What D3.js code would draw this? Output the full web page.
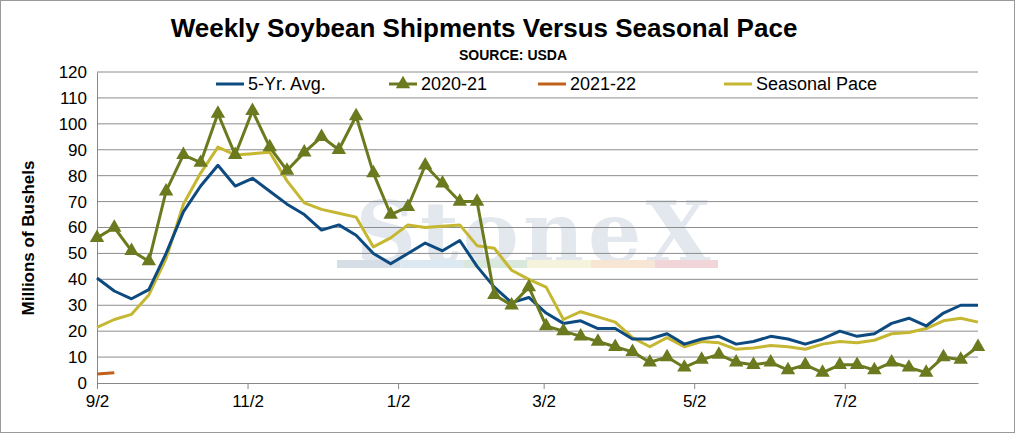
<!DOCTYPE html>
<html><head><meta charset="utf-8">
<script src="https://cdn.jsdelivr.net/npm/d3@7"></script>
<style>body{margin:0;background:#fff}svg{font-family:Arial,"Liberation Sans",sans-serif}</style>
</head><body>
<script>
// weekly values, million bushels, first week 9/2
var avg5 = [40.5,35.5,32.5,36,50,66,76,84,76,79, 74,69,65,59,61,57,50,46,50,54,
  51,55,45,37,31,33,27,23,24,21, 21,17,17,19,15,17,18,15,16,18,
  17,15,17,20,18,19,23,25,22,27, 30,30];
var y2021 = [56,60,51,47,74,88,85,104,88,105, 91,82,89,95,90,103,81,65,68,84,
  77,70,70,34,30,37,22,20,18,16, 14,12,8,10,6,9,11,8,7,8,
  5,7,4,7,7,5,8,6,4,10, 9,14];
var y2122 = [3.5,4];
var pace = [21.5,24.5,26.5,34,48,69,81,91,88,88.5, 89,78,69.5,67,65.5,64,52.5,56,61,60,
  60.5,61,53,52,43.5,40,37,24.5,27.5,25.5, 23.5,17.5,14,17.5,14,16,15.5,13,13.5,14.5,
  14,13,15,16,15.5,16.5,19,19.5,21,24, 25,23.5];
var tickDates = ["2020-09-02","2020-11-02","2021-01-02","2021-03-02","2021-05-02","2021-07-02"];
var yTicks = d3.range(0, 121, 10);

var W = 1015, H = 433;
var svg = d3.select("body").append("svg").attr("width", W).attr("height", H);
svg.append("rect").attr("x",0.5).attr("y",0.5).attr("width",W-1).attr("height",H-1)
  .attr("fill","#fff").attr("stroke","#999");

var start = new Date(2020, 8, 2);
var week = i => d3.timeDay.offset(start, 7 * i);
var x = d3.scaleTime().domain([start, week(51)]).range([97, 978]);
var y = d3.scaleLinear().domain([0, 120]).range([383, 72]);

// watermark
svg.append("text").attr("x", 535).attr("y", 262).attr("text-anchor","middle")
  .style("font-family","'DejaVu Serif',serif").style("font-size","84px").style("font-weight","bold")
  .style("letter-spacing","4px").attr("fill","#e3e8ee").text("StoneX");
var wm = ["#d5dde6","#dde9f2","#d9e8dc","#f5f3dc","#f7e6d4","#f1d5d8"];
wm.forEach((c, i) => svg.append("rect").attr("x", 337 + i*63.5).attr("y", 260).attr("width", 63.5).attr("height", 8).attr("fill", c));

// grid
svg.append("g").selectAll("line").data(yTicks.slice(1)).join("line")
  .attr("x1", 97).attr("x2", 978).attr("y1", d => y(d)).attr("y2", d => y(d))
  .attr("stroke", "#8c8c8c").attr("stroke-width", 1);

var ya = svg.append("g").attr("transform","translate(97,0)")
  .call(d3.axisLeft(y).tickValues(yTicks).tickSize(0).tickPadding(10));
ya.select(".domain").attr("stroke","#888");
ya.selectAll("text").style("font-size","17px").attr("fill","#000");

var xa = svg.append("g").attr("transform","translate(0,383)")
  .call(d3.axisBottom(x).tickValues(tickDates.map(d => d3.timeParse("%Y-%m-%d")(d)))
    .tickFormat(d3.timeFormat("%-m/%-d")).tickSize(6).tickSizeOuter(0).tickPadding(6));
xa.select(".domain").attr("stroke","#888");
xa.selectAll("line").attr("stroke","#888");
xa.selectAll("text").style("font-size","17px").attr("fill","#000");

var line = d3.line().x((d, i) => x(week(i))).y(d => y(d));
function series(data, color, w) {
  svg.append("path").datum(data).attr("d", line).attr("fill","none")
    .attr("stroke", color).attr("stroke-width", w).attr("stroke-linejoin","round");
}
var tri = d3.symbol().type(d3.symbolTriangle).size(90);
series(pace, "#c5b731", 3);
series(avg5, "#0d4a80", 3);
series(y2021, "#6b7a1f", 3);
series(y2122, "#c0601a", 3);
svg.append("g").selectAll("path").data(y2021).join("path").attr("d", tri)
  .attr("transform", (d, i) => `translate(${x(week(i))},${y(d)})`).attr("fill","#6b7a1f");

// titles
svg.append("text").attr("x", 484).attr("y", 37).attr("text-anchor","middle")
  .style("font-size","26px").style("font-weight","bold").text("Weekly Soybean Shipments Versus Seasonal Pace");
svg.append("text").attr("x", 513).attr("y", 60).attr("text-anchor","middle")
  .style("font-size","14px").style("font-weight","bold").text("SOURCE: USDA");
svg.append("text").attr("transform","translate(34,238) rotate(-90)").attr("text-anchor","middle")
  .style("font-size","17px").style("font-weight","bold").text("Millions of Bushels");

// legend
var legend = [["5-Yr. Avg.","#0d4a80",false,244],["2020-21","#6b7a1f",true,417],
  ["2021-22","#c0601a",false,566],["Seasonal Pace","#c5b731",false,752]];
legend.forEach(l => {
  var g = svg.append("g").attr("transform", `translate(${l[3]},84)`);
  g.append("line").attr("x1",-28).attr("x2",0).attr("stroke",l[1]).attr("stroke-width",3);
  if (l[2]) g.append("path").attr("d", tri).attr("transform","translate(-14,0)").attr("fill",l[1]);
  g.append("text").attr("x",4).attr("y",6).style("font-size","18px").text(l[0]);
});
</script>
</body></html>
